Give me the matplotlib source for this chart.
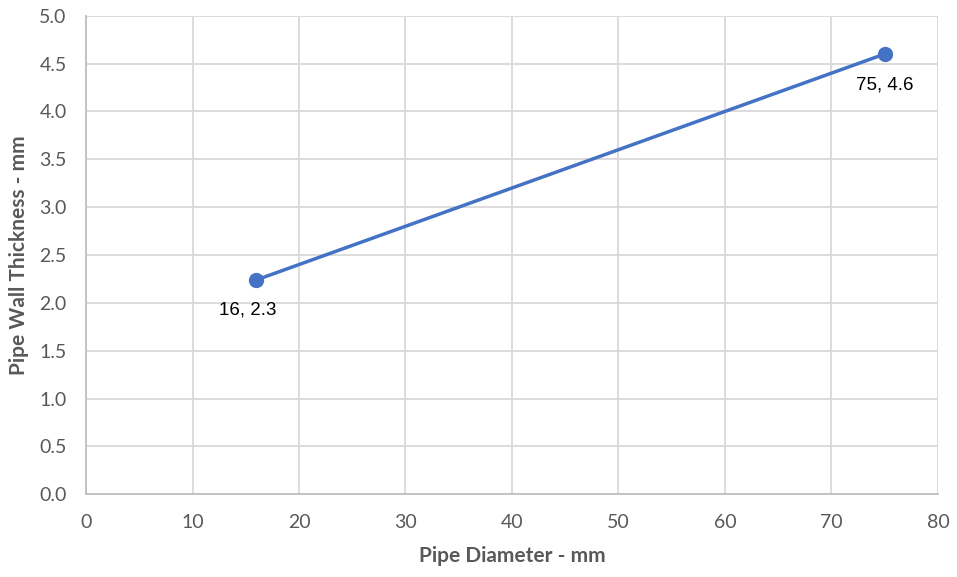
import matplotlib
matplotlib.use("Agg")
import matplotlib.pyplot as plt

diameter = [16, 75]
thickness = [2.24, 4.6]
point_labels = ["16, 2.3", "75, 4.6"]
x_ticks = [0, 10, 20, 30, 40, 50, 60, 70, 80]
y_ticks = [0.0, 0.5, 1.0, 1.5, 2.0, 2.5, 3.0, 3.5, 4.0, 4.5, 5.0]

fig = plt.figure(figsize=(9.57, 5.77), dpi=100)
ax = fig.add_axes([86/957, (577-494.3)/577, (938-86)/957, (494.3-15.7)/577])

grid_c = "#d9d9d9"
ax.set_xlim(0, 80)
ax.set_ylim(0, 5)
ax.set_xticks(x_ticks)
ax.set_yticks(y_ticks)
ax.set_xticklabels([str(v) for v in x_ticks])
ax.set_yticklabels([f"{v:.1f}" for v in y_ticks])
ax.grid(True, color=grid_c, linewidth=1.3)
ax.set_axisbelow(True)
for s in ["top", "right"]:
    ax.spines[s].set_visible(False)
for s in ["left", "bottom"]:
    ax.spines[s].set_color("#bfbfbf")
    ax.spines[s].set_linewidth(1.3)
ax.tick_params(axis="x", length=0, pad=14, labelsize=14, labelcolor="#595959")
ax.tick_params(axis="y", length=0, pad=14, labelsize=14, labelcolor="#595959")
for t in ax.get_xticklabels() + ax.get_yticklabels():
    t.set_fontfamily("Lato")

ax.plot(diameter, thickness, color="#4472C4", linewidth=2.5, marker="o",
        markersize=10, clip_on=False, zorder=3)

offsets = [(-6, -22), (0, -22)]
for xv, yv, lab, off in zip(diameter, thickness, point_labels, offsets):
    ax.annotate(lab, (xv, yv), xytext=off,
                textcoords="offset points", ha="center", va="center",
                fontsize=13.5, family="Liberation Sans", color="#000000")

ax.set_xlabel("Pipe Diameter - mm", fontsize=15, fontweight="bold",
              color="#595959", family="Lato", labelpad=11)
ax.set_ylabel("Pipe Wall Thickness - mm", fontsize=15, fontweight="bold",
              color="#595959", family="Lato", labelpad=7)

fig.savefig("out.png", dpi=100)
